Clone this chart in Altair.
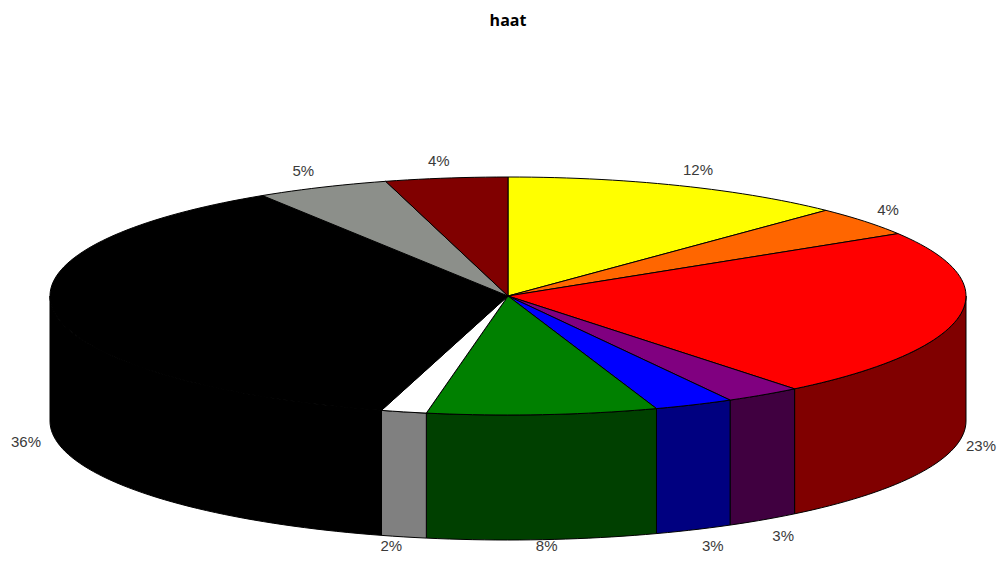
import math
import altair as alt
import pandas as pd

shares = [12.2, 4.0, 23.0, 2.7, 2.8, 8.1, 1.6, 36.5, 4.7, 4.3]
labels = ["12%", "4%", "23%", "3%", "3%", "8%", "2%", "36%", "5%", "4%"]
tops = ["#ffff00", "#ff6600", "#ff0000", "#800080", "#0000ff", "#008000", "#ffffff", "#000000", "#8c8f8a", "#800000"]
walls = ["#808000", "#803300", "#800000", "#400040", "#000080", "#004000", "#808080", "#000000", "#464745", "#400000"]

CX, CY, RX, RY, DEPTH = 508, 296, 458, 119, 125


def ellipse(t):
    return CX + RX * math.sin(t), CY - RY * math.cos(t)


def sample(a, b):
    n = max(2, int(abs(b - a) / math.radians(1.5)) + 2)
    return [a + (b - a) * i / (n - 1) for i in range(n)]


total = sum(shares)
rows, texts = [], []
piece = 0
cum = 0.0
bounds = []
for s in shares:
    a = 2 * math.pi * cum / total
    cum += s
    bounds.append((a, 2 * math.pi * cum / total))

for (a, b), c in zip(bounds, walls):
    lo, hi = max(a, math.pi / 2), min(b, 3 * math.pi / 2)
    if hi <= lo:
        continue
    ts = sample(lo, hi)
    pts = [ellipse(t) for t in ts]
    poly = pts + [(x, y + DEPTH) for x, y in reversed(pts)] + [pts[0]]
    for i, (x, y) in enumerate(poly):
        rows.append({"x": x, "y": y, "piece": piece, "i": i, "fill": c})
    piece += 1

for (a, b), c, lab in zip(bounds, tops, labels):
    poly = [(CX, CY)] + [ellipse(t) for t in sample(a, b)] + [(CX, CY)]
    for i, (x, y) in enumerate(poly):
        rows.append({"x": x, "y": y, "piece": piece, "i": i, "fill": c})
    piece += 1
    t = (a + b) / 2
    sn, cs = math.sin(t), math.cos(t)
    x, y = ellipse(t)
    if cs < 0:
        y += DEPTH
    x += math.copysign(min(abs(sn) * 55, 18 + 11 * abs(sn) ** 3), sn)
    y -= (17 if cs > 0 else 19) * math.copysign(abs(cs) ** 0.8, cs)
    texts.append({"x": min(x, 981), "y": min(y, 546), "label": lab})

xs = alt.Scale(domain=[8, 997], range=[0, 989], nice=False, zero=False)
ys = alt.Scale(domain=[38, 554], range=[0, 516], nice=False, zero=False)

shapes = alt.Chart(pd.DataFrame(rows)).mark_line(
    stroke="#000000", strokeWidth=1, clip=False, interpolate="linear"
).encode(
    x=alt.X("x:Q", scale=xs, axis=None),
    y=alt.Y("y:Q", scale=ys, axis=None),
    detail="piece:N",
    order="i:Q",
    fill=alt.Fill("fill:N", scale=None),
)

text = alt.Chart(pd.DataFrame(texts)).mark_text(
    font="Liberation Sans", fontSize=15, color="#3a3a3a", align="center", baseline="middle"
).encode(
    x=alt.X("x:Q", scale=xs, axis=None),
    y=alt.Y("y:Q", scale=ys, axis=None),
    text="label:N",
)

chart = alt.layer(shapes, text).properties(
    width=989,
    height=516,
    autosize=alt.AutoSizeParams(type="none"),
    padding={"left": 0, "right": 0, "top": 30, "bottom": 0},
    title=alt.TitleParams("haat", font="Open Sans", fontSize=16, fontWeight="bold", color="#000000",
                          anchor="middle", offset=9, dx=5.5),
).configure_view(stroke=None)

chart.save("out.html", embed_options={"renderer": "svg", "actions": False})
